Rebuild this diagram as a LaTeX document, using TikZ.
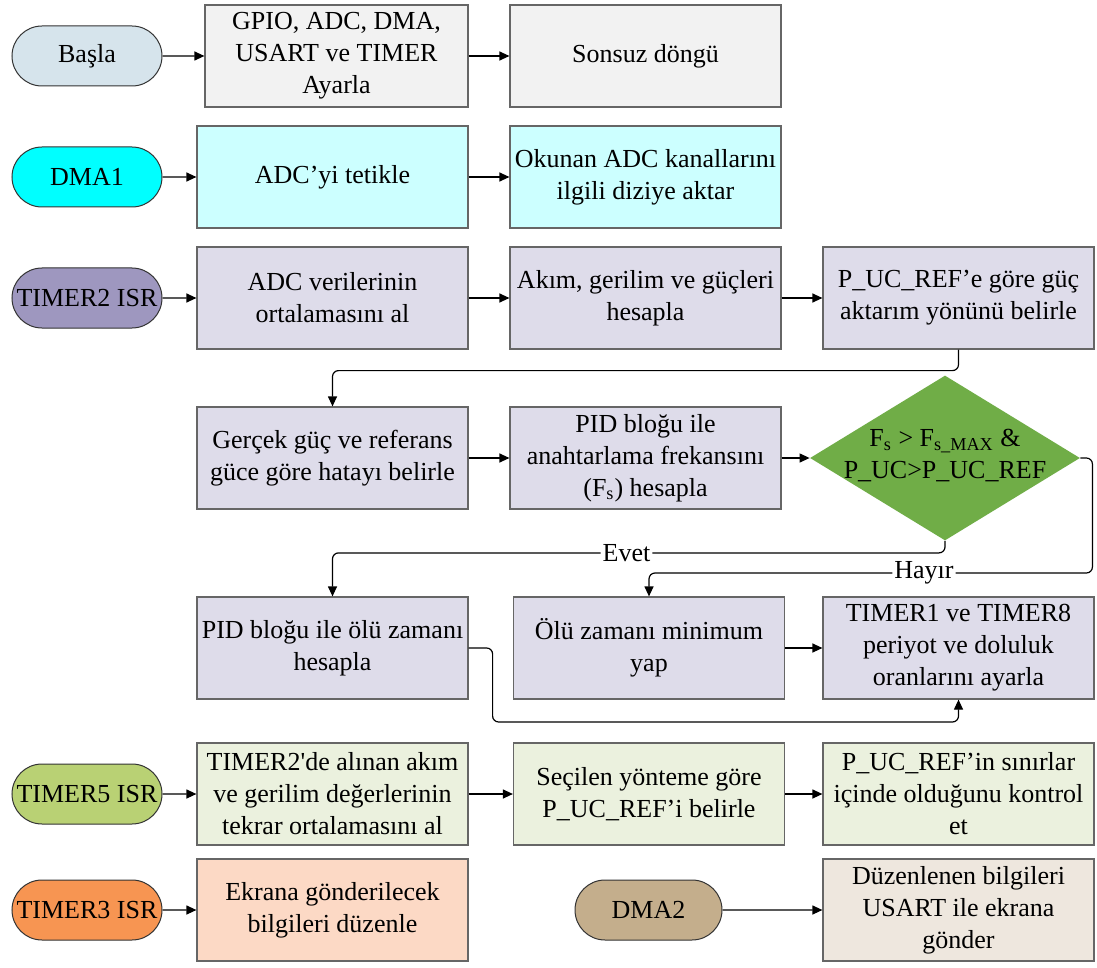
\documentclass[tikz,border=0pt]{standalone}
\usepackage{fontspec}
\newfontfamily\flowfont{Liberation Serif}
\usetikzlibrary{arrows.meta, shapes.geometric, shapes.misc, positioning}
\definecolor{startfill}{RGB}{214,228,236}
\definecolor{initfill}{RGB}{242,242,242}
\definecolor{dmafill}{RGB}{0,255,255}
\definecolor{dmabox}{RGB}{204,255,255}
\definecolor{timtwo}{RGB}{158,151,191}
\definecolor{timtwobox}{RGB}{222,220,234}
\definecolor{decgreen}{RGB}{112,173,71}
\definecolor{timfive}{RGB}{185,209,116}
\definecolor{timfivebox}{RGB}{235,241,222}
\definecolor{timthree}{RGB}{247,149,82}
\definecolor{timthreebox}{RGB}{252,217,197}
\definecolor{dmatwo}{RGB}{196,174,140}
\definecolor{dmatwobox}{RGB}{238,231,222}

\begin{document}
\begin{tikzpicture}[x=0.5pt, y=-0.5pt,
    every node/.style={font=\flowfont\fontsize{13}{16}\selectfont, align=center},
    term/.style={rounded rectangle, draw=black!80, line width=0.5pt, minimum width=75pt, minimum height=30pt, inner sep=0pt},
    block/.style={rectangle, draw=black!60, line width=0.6pt, minimum width=135.5pt, minimum height=51pt, inner sep=1pt},
    decision/.style={diamond, fill=decgreen, minimum width=135pt, minimum height=82.5pt, inner sep=0pt},
    flow/.style={-{Triangle[length=5pt,width=4.5pt]}, line width=0.6pt, rounded corners=3pt},
    tag/.style={fill=white, inner sep=1pt}]
    \fill[white] (0,0) rectangle (1097,968);
    \useasboundingbox (0,0) rectangle (1097,968);

    % main loop
    \node[term, fill=startfill] (start) at (87,56) {Başla};
    \node[block, fill=initfill, minimum width=131.5pt] (init) at (336.5,56) {GPIO, ADC, DMA,\\USART ve TIMER\\Ayarla};
    \node[block, fill=initfill] (loop) at (645.5,56) {Sonsuz döngü};
    \draw[flow] (start) -- (init);
    \draw[flow] (init) -- (loop);

    % DMA1
    \node[term, fill=dmafill] (dmaA) at (87,177) {DMA1};
    \node[block, fill=dmabox] (trig) at (332.5,177) {ADC’yi tetikle};
    \node[block, fill=dmabox] (copy) at (645.5,177) {Okunan ADC kanallarını\\ilgili diziye aktar};
    \draw[flow] (dmaA) -- (trig);
    \draw[flow] (trig) -- (copy);

    % TIMER2 ISR
    \node[term, fill=timtwo] (timB) at (87,298) {TIMER2 ISR};
    \node[block, fill=timtwobox] (avg) at (332.5,298) {ADC verilerinin\\ortalamasını al};
    \node[block, fill=timtwobox] (calc) at (645.5,298) {Akım, gerilim ve güçleri\\hesapla};
    \node[block, fill=timtwobox] (dir) at (958.5,298) {P\_UC\_REF’e göre güç\\aktarım yönünü belirle};
    \draw[flow] (timB) -- (avg);
    \draw[flow] (avg) -- (calc);
    \draw[flow] (calc) -- (dir);

    \node[block, fill=timtwobox] (err) at (332.5,458) {Gerçek güç ve referans\\güce göre hatayı belirle};
    \node[block, fill=timtwobox] (freq) at (645.5,458) {PID bloğu ile\\anahtarlama frekansını\\(F\textsubscript{s}) hesapla};
    \node[decision] (chk) at (945,458) {};
    \node (chktxt) at (945,456) {F\textsubscript{s} > F\textsubscript{s\_MAX} \&\\P\_UC>P\_UC\_REF};
    \draw[flow] (dir.south) -- ++(0,21) -| (err.north);
    \draw[flow] (err) -- (freq);
    \draw[flow] (freq) -- (chk.west);

    \node[block, fill=timtwobox] (dead) at (332.5,648) {PID bloğu ile ölü zamanı\\hesapla};
    \node[block, fill=timtwobox] (deadmin) at (649,648) {Ölü zamanı minimum\\yap};
    \node[block, fill=timtwobox] (pwm) at (958.5,648) {TIMER1 ve TIMER8\\periyot ve doluluk\\oranlarını ayarla};
    \draw[flow] (chk.south) -- ++(0,12) -| node[tag, pos=0.26] {Evet} (dead.north);
    \draw[flow] (chk.east) -- ++(12,0) -- ++(0,115) -| node[tag, pos=0.19] {Hayır} (deadmin.north);
    \draw[flow] (deadmin) -- (pwm);
    \draw[flow] (dead.east) -- ++(24,0) -- ++(0,74) -| (pwm.south);

    % TIMER5 ISR
    \node[term, fill=timfive] (timE) at (87,794) {TIMER5 ISR};
    \node[block, fill=timfivebox] (avg2) at (332.5,794) {TIMER2\textquotesingle de alınan akım\\ve gerilim değerlerinin\\tekrar ortalamasını al};
    \node[block, fill=timfivebox] (ref) at (649,794) {Seçilen yönteme göre\\P\_UC\_REF’i belirle};
    \node[block, fill=timfivebox] (lim) at (958.5,794) {P\_UC\_REF’in sınırlar\\içinde olduğunu kontrol\\et};
    \draw[flow] (timE) -- (avg2);
    \draw[flow] (avg2) -- (ref);
    \draw[flow] (ref) -- (lim);

    % TIMER3 ISR and DMA2
    \node[term, fill=timthree] (timC) at (87,910) {TIMER3 ISR};
    \node[block, fill=timthreebox] (disp) at (332.5,910) {Ekrana gönderilecek\\bilgileri düzenle};
    \node[term, fill=dmatwo, minimum width=73.5pt] (dmaB) at (648.5,910) {DMA2};
    \node[block, fill=dmatwobox] (send) at (958.5,910) {Düzenlenen bilgileri\\USART ile ekrana\\gönder};
    \draw[flow] (timC) -- (disp);
    \draw[flow] (dmaB) -- (send);
\end{tikzpicture}
\end{document}
